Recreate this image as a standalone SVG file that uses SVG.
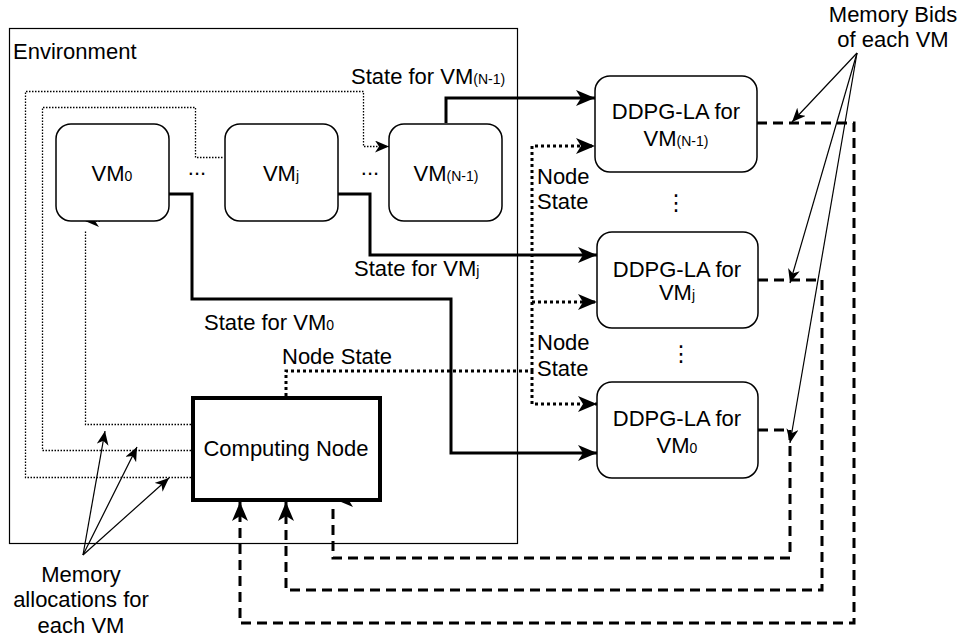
<svg xmlns="http://www.w3.org/2000/svg" width="963" height="637" viewBox="0 0 963 637">
<defs>
<style>
text{font-family:"Liberation Sans",Arial,Helvetica,sans-serif;font-size:22px;fill:#000}
.node{fill:#fff;stroke:#000;stroke-width:1.5}
.env{fill:#fff;stroke:#000;stroke-width:1.2}
.cn{fill:#fff;stroke:#000;stroke-width:4}
.thick{fill:none;stroke:#000;stroke-width:3}
.dash{fill:none;stroke:#000;stroke-width:3;stroke-dasharray:10 6}
.dotT{fill:none;stroke:#000;stroke-width:3;stroke-dasharray:3 3}
.dot{fill:none;stroke:#000;stroke-width:1.3;stroke-dasharray:1.5 1.5}
.thin{fill:none;stroke:#000;stroke-width:1.2}
.c{text-anchor:middle}
</style>
<marker id="big" markerUnits="userSpaceOnUse" markerWidth="20" markerHeight="18" refX="19" refY="8" orient="auto" viewBox="0 0 20 18">
<path d="M0,0 L19,8 L0,16 L5,8 Z" fill="#000" stroke="none"/>
</marker>
<marker id="small" markerUnits="userSpaceOnUse" markerWidth="16" markerHeight="14" refX="14" refY="6" orient="auto" viewBox="0 0 16 14">
<path d="M0,0 L14,6 L0,12 L4,6 Z" fill="#000" stroke="none"/>
</marker>
</defs>

<g id="environment">
<rect class="env" x="9.5" y="28.5" width="508" height="515"/>
<text x="13" y="59">Environment</text>
</g>

<g id="connectors">
<path class="dot" d="M191 424.5 L85.5 424.5 L85.5 230"/>
<path class="dot" d="M100 221 L85 221" marker-end="url(#small)"/>
<path class="dot" d="M191 450.5 L42.5 450.5 L42.5 107.5 L195.5 107.5 L195.5 157.5 L224 157.5"/>
<path class="dot" d="M191 477.5 L25.5 477.5 L25.5 91.5 L363.5 91.5 L363.5 146.5 L389 146.5" marker-end="url(#small)"/>
<path class="thick" d="M446 123 L446 98 L595 98" marker-end="url(#big)"/>
<path class="thick" d="M338 194 L370 194 L370 255 L597 255" marker-end="url(#big)"/>
<path class="thick" d="M169 194 L192 194 L192 299 L451 299 L451 453 L597 453" marker-end="url(#big)"/>
<path class="dotT" d="M286 396 L286 371 L532 371"/>
<path class="dotT" d="M532 371 L532 146 L595 146" marker-end="url(#big)"/>
<path class="dotT" d="M532 302 L597 302" marker-end="url(#big)"/>
<path class="dotT" d="M532 371 L532 404 L597 404" marker-end="url(#big)"/>
<path class="dash" d="M757 123 L854 123 L854 623 L240 623 L240 502" marker-end="url(#big)"/>
<path class="dash" d="M758 280 L822 280 L822 590 L286 590 L286 502" marker-end="url(#big)"/>
<path class="dash" d="M758 430 L790 430 L790 558 L333 558 L333 506"/>
<path class="thick" d="M352 499 L334 499" marker-end="url(#big)"/>
<path class="thin" d="M857 53 L792 122" marker-end="url(#small)"/>
<path class="thin" d="M857 53 L790 283" marker-end="url(#small)"/>
<path class="thin" d="M857 53 L790 443" marker-end="url(#small)"/>
<path class="thin" d="M83 555 L105 431" marker-end="url(#small)"/>
<path class="thin" d="M83 555 L137 447" marker-end="url(#small)"/>
<path class="thin" d="M83 555 L169 478" marker-end="url(#small)"/>
</g>

<g id="vm0">
<rect class="node" x="56" y="124" width="113" height="97" rx="15"/>
<text class="c" x="112" y="181">VM<tspan font-size="14">0</tspan></text>
</g>
<g id="vmj">
<rect class="node" x="225" y="124" width="113" height="97" rx="15"/>
<text class="c" x="281" y="181">VM<tspan font-size="14">j</tspan></text>
</g>
<g id="vmn1">
<rect class="node" x="389" y="124" width="113" height="97" rx="15"/>
<text class="c" x="446" y="181">VM<tspan font-size="14">(N-1)</tspan></text>
</g>
<g id="dots-h">
<text class="c" x="197" y="175" font-size="16">...</text>
<text class="c" x="370" y="175" font-size="16">...</text>
</g>

<g id="computing-node">
<rect class="cn" x="193" y="398" width="187" height="102"/>
<text class="c" x="286" y="456" font-size="19">Computing Node</text>
</g>

<g id="ddpg-n1">
<rect class="node" x="595" y="76" width="162" height="96" rx="15"/>
<text class="c" x="676" y="119">DDPG-LA for</text>
<text class="c" x="676" y="146">VM<tspan font-size="14">(N-1)</tspan></text>
</g>
<g id="ddpg-j">
<rect class="node" x="597" y="232" width="161" height="96" rx="15"/>
<text class="c" x="677" y="277">DDPG-LA for</text>
<text class="c" x="677" y="300">VM<tspan font-size="14">j</tspan></text>
</g>
<g id="ddpg-0">
<rect class="node" x="597" y="382" width="161" height="96" rx="15"/>
<text class="c" x="677" y="426">DDPG-LA for</text>
<text class="c" x="677" y="453">VM<tspan font-size="14">0</tspan></text>
</g>
<g id="dots-v">
<text class="c" x="676" y="210" font-size="16" style="font-family:'DejaVu Sans',sans-serif">⋮</text>
<text class="c" x="681" y="361" font-size="16" style="font-family:'DejaVu Sans',sans-serif">⋮</text>
</g>

<g id="labels">
<text x="351" y="84">State for VM<tspan font-size="14">(N-1)</tspan></text>
<text x="354" y="276">State for VM<tspan font-size="14">j</tspan></text>
<text x="204" y="330">State for VM<tspan font-size="14">0</tspan></text>
<text x="282" y="364">Node State</text>
<text x="537" y="184">Node</text>
<text x="537" y="209">State</text>
<text x="537" y="350">Node</text>
<text x="537" y="376">State</text>
<text class="c" x="893" y="22">Memory Bids</text>
<text class="c" x="893" y="47">of each VM</text>
<text class="c" x="81" y="582">Memory</text>
<text class="c" x="81" y="607">allocations for</text>
<text class="c" x="81" y="633">each VM</text>
</g>
</svg>
